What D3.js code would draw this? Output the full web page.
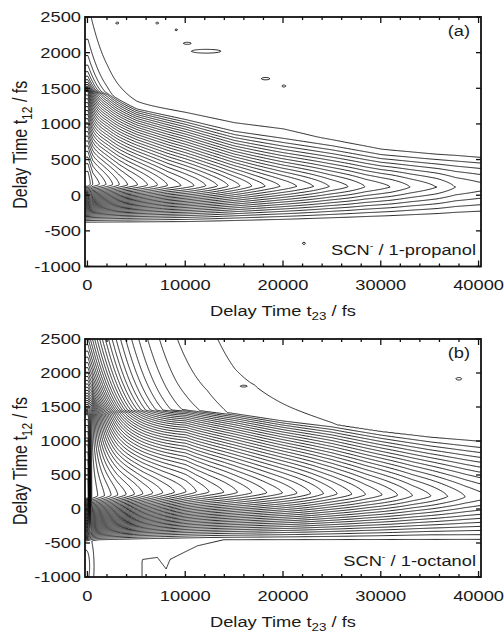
<!DOCTYPE html>
<html>
<head>
<meta charset="utf-8">
<script src="https://cdn.jsdelivr.net/npm/d3@7"></script>
<style>
body { margin: 0; background: #fff; }
svg text { font-family: "Liberation Sans", Arial, Helvetica, sans-serif; font-size: 15px; fill: #1a1a1a; }
</style>
</head>
<body>
<div id="chart"></div>
<script>
// ---- axes ----
var xTicks = [0, 10000, 20000, 30000, 40000];
var xMinorTicks = [2000, 4000, 6000, 8000, 12000, 14000, 16000, 18000, 22000, 24000, 26000, 28000, 32000, 34000, 36000, 38000];
var yTicks = [-1000, -500, 0, 500, 1000, 1500, 2000, 2500];
var contourLevels = d3.range(1, 100);

// ---- panel (a): SCN- / 1-propanol ----
// t23 of the contour tips (rightmost point of each nested loop) and the level reached there
var ampT23A = [0, 500, 1190, 1870, 2550, 3230, 4080, 5100, 6130, 7150, 8170, 9540, 10900, 12100, 13300, 14400, 15600, 16800, 18170, 19700, 21400, 23100, 24700, 26700, 28400, 31000, 33000, 35700, 37600, 40000];
var ampA = [35, 33, 32, 31, 30, 29, 28, 27, 26, 25, 24, 23, 22, 21, 20, 19, 18, 17, 16, 15, 14, 13, 12, 11, 10, 9, 8, 7, 6, 5.4];
var peakT23A = [0, 10000, 40000];
var peakA = [150, 130, 110];
// upper edge of the main lobe (second contour), t12 vs t23
var upperT23A = [0, 2000, 3000, 5000, 10000, 15000, 20000, 25000, 30000, 35000, 40000];
var upperA = [1450, 1400, 1330, 1200, 1050, 880, 775, 680, 560, 500, 446];
var shapeT23A = [0, 1500, 5000, 10000, 20000, 30000, 40000];
var shapeA = [1.1, 1.0, 0.95, 1.1, 1.6, 1.5, 1.2];
// contours sweeping down from the top-left corner: [height, t23 decay, t12 reach, knee]
var sweepA = [15, 1020, 105, 20];
// reach of the outermost contour above the main lobe
var haloT23A = [0, 3000, 5000, 10000, 15000, 20000, 25000, 30000, 40000];
var haloA = [420, 420, 430, 450, 470, 485, 430, 410, 390];
var haloSoftA = 300;
var lowerT23A = [0, 10000, 20000, 30000, 40000];
var lowerA = [-410, -410, -390, -360, -328];
var lowShapeA = 1.5;
var lowFloorT23A = [0, 40000];
var lowFloorA = [-1300, -1300];
// small isolated contours: [t23, t12, half-size t23, half-size t12, height]
var islandsA = [
    [12100, 2015, 1600, 28, 1.6], [10160, 2126, 450, 16, 1.5], [18170, 1630, 450, 16, 1.5],
    [20040, 1527, 200, 14, 1.4], [3000, 2410, 200, 14, 1.4], [7090, 2410, 200, 14, 1.4],
    [9030, 2315, 150, 14, 1.4], [22090, -680, 150, 14, 1.4]
];

// ---- panel (b): SCN- / 1-octanol ----
var ampT23B = [0, 340, 1010, 1700, 2380, 3060, 3920, 4770, 5620, 6640, 7660, 8860, 10050, 11100, 12400, 13900, 15300, 16800, 18300, 19900, 21400, 22800, 24100, 25500, 27000, 28400, 30100, 31700, 33200, 35100, 36800, 38600, 40000];
var ampB = [54, 41, 40, 39, 38, 37, 36, 35, 34, 33, 32, 31, 30, 29, 28, 27, 26, 25, 24, 23, 22, 21, 20, 19, 18, 17, 16, 15, 14, 13, 12, 11, 10.4];
var peakT23B = [0, 10000, 25000, 40000];
var peakB = [180, 250, 220, 170];
var upperT23B = [0, 5000, 10000, 15000, 20000, 25000, 30000, 35000, 40000];
var upperB = [1380, 1420, 1440, 1380, 1280, 1200, 1080, 980, 900];
var shapeT23B = [0, 3000, 10000, 20000, 30000, 40000];
var shapeB = [1.05, 1.0, 0.8, 0.95, 1.1, 1.3];
var sweepB = [42, 3600, 900, 120];
var haloT23B = [0, 9100, 12200, 15000, 17000, 21000, 26000, 33000, 40000];
var haloB = [800, 800, 935, 820, 830, 756, 674, 700, 694];
var haloSoftB = 600;
var lowerT23B = [0, 1200, 5000, 13000, 25000, 35000, 40000];
var lowerB = [-490, -480, -470, -455, -450, -440, -450];
var lowShapeB = 1.3;
// outermost contour below the band
var lowFloorT23B = [0, 5450, 5600, 7100, 8000, 8400, 10200, 11200, 13900, 40000];
var lowFloorB = [-1300, -1300, -760, -730, -900, -760, -630, -560, -470, -465];
var islandsB = [
    [15950, 1802, 500, 18, 1.5], [37930, 1910, 300, 18, 1.5], [-200, -850, 700, 450, 2.0]
];

var panels = [
    {
        letter: '(a)', solvent: '1-propanol', top: 17, bottom: 266.5, titleY: 316,
        amp: [ampT23A, ampA], peak: [peakT23A, peakA], upper: [upperT23A, upperA],
        shape: [shapeT23A, shapeA], sweep: sweepA, halo: [haloT23A, haloA], haloSoft: haloSoftA,
        lower: [lowerT23A, lowerA], lowShape: lowShapeA, lowFloor: [lowFloorT23A, lowFloorA],
        islands: islandsA
    },
    {
        letter: '(b)', solvent: '1-octanol', top: 339, bottom: 577, titleY: 627,
        amp: [ampT23B, ampB], peak: [peakT23B, peakB], upper: [upperT23B, upperB],
        shape: [shapeT23B, shapeB], sweep: sweepB, halo: [haloT23B, haloB], haloSoft: haloSoftB,
        lower: [lowerT23B, lowerB], lowShape: lowShapeB, lowFloor: [lowFloorT23B, lowFloorB],
        islands: islandsB
    }
];

var width = 504, height = 635;
var plotLeft = 85, plotRight = 481;
var stretch = 1.22;
var peakFlat = 1.5, lowFlat = 1.3, haloKnee = 160;

// sampling grid for the contour field
var u0 = -600, du = 100, nu = 413;
var t0 = -1100, dt = 10, nt = 371;

var x = d3.scaleLinear().domain([-250, 40250]).range([plotLeft, plotRight]);

var svg = d3.select('#chart').append('svg')
    .attr('width', width)
    .attr('height', height);

function knots(pair) {
    return d3.scaleLinear().domain(pair[0]).range(pair[1]).clamp(true);
}

function softPlus(v) {
    return (v + Math.sqrt(v * v + haloKnee * haloKnee)) / 2;
}

function buildField(p) {
    var amp = knots(p.amp), peak = knots(p.peak), upper = knots(p.upper),
        shape = knots(p.shape), halo = knots(p.halo), lower = knots(p.lower),
        floor = knots(p.lowFloor);
    var sw = p.sweep, swKnee = Math.sqrt(sw[3] / sw[2]);
    var values = new Float64Array(nu * nt);
    for (var i = 0; i < nu; i++) {
        var uu = u0 + i * du;
        var u = Math.max(0, Math.min(40000, uu));
        var total = amp(u);
        var Bh = halo(u) / p.haloSoft;
        var Bs = sw[0] * Math.exp(-u / sw[1]);
        var A = Math.max(total - Bh - Bs, 0.5);
        var pk = peak(u), mu = shape(u), q = upper(u);
        var Wu = (q - pk) / Math.pow(1 - Math.pow(A, -1 / mu), 1 / peakFlat);
        var Wl = (pk - lower(u)) / Math.pow(1 - Math.pow(total, -1 / p.lowShape), 1 / lowFlat);
        var fl = floor(u);
        for (var j = 0; j < nt; j++) {
            var t = t0 + j * dt, v;
            if (t >= pk) {
                var z = (t - pk) / Wu;
                v = z < 1 ? A * Math.pow(1 - Math.pow(z, peakFlat), mu) : 0;
                v += Bh * p.haloSoft / (softPlus(t - q) + p.haloSoft);
                v += Bs * Math.exp(swKnee - Math.sqrt((Math.max(0, t - q) + sw[3]) / sw[2]));
            } else {
                var zl = (pk - t) / Wl;
                v = zl < 1 ? total * Math.pow(1 - Math.pow(zl, lowFlat), p.lowShape) : 0;
                var shelf = 1.5 * Math.max(0, Math.min(1, (t - fl) / 80 + 0.5));
                v = Math.max(v, shelf);
            }
            p.islands.forEach(function (d) {
                var a = (uu - d[0]) / d[2], b = (t - d[1]) / d[3];
                var e = a * a + b * b;
                if (e < 12) v += d[4] * Math.exp(-e);
            });
            values[j * nu + i] = v;
        }
    }
    return values;
}

function label(g, text, px, py, anchor) {
    return g.append('text')
        .attr('transform', 'translate(' + px + ',' + py + ') scale(' + stretch + ',1)')
        .attr('text-anchor', anchor)
        .text(text);
}

panels.forEach(function (p, n) {
    var y = d3.scaleLinear().domain([-1000, 2500]).range([p.bottom, p.top]);
    var g = svg.append('g');

    var clipId = 'clip' + n;
    svg.append('clipPath').attr('id', clipId)
        .append('rect')
        .attr('x', plotLeft).attr('y', p.top)
        .attr('width', plotRight - plotLeft).attr('height', p.bottom - p.top);

    var values = buildField(p);
    var contours = d3.contours().size([nu, nt]).thresholds(contourLevels)(values);
    var proj = d3.geoTransform({
        point: function (cx, cy) {
            this.stream.point(x(u0 + cx * du), y(t0 + cy * dt));
        }
    });
    var path = d3.geoPath(proj);

    g.append('g')
        .attr('clip-path', 'url(#' + clipId + ')')
        .selectAll('path')
        .data(contours)
        .enter().append('path')
        .attr('d', path)
        .attr('fill', 'none')
        .attr('stroke', '#000')
        .attr('stroke-width', 0.85);

    // frame
    g.append('rect')
        .attr('x', plotLeft).attr('y', p.top)
        .attr('width', plotRight - plotLeft).attr('height', p.bottom - p.top)
        .attr('fill', 'none').attr('stroke', '#111').attr('stroke-width', 1.8);

    var ticks = g.append('g').attr('stroke', '#111').attr('stroke-width', 1.3);
    xTicks.forEach(function (d) {
        ticks.append('line').attr('x1', x(d)).attr('x2', x(d)).attr('y1', p.bottom).attr('y2', p.bottom - 6);
        ticks.append('line').attr('x1', x(d)).attr('x2', x(d)).attr('y1', p.top).attr('y2', p.top + 6);
    });
    xMinorTicks.forEach(function (d) {
        ticks.append('line').attr('x1', x(d)).attr('x2', x(d)).attr('y1', p.bottom).attr('y2', p.bottom - 3);
        ticks.append('line').attr('x1', x(d)).attr('x2', x(d)).attr('y1', p.top).attr('y2', p.top + 3);
    });
    yTicks.forEach(function (d) {
        ticks.append('line').attr('x1', plotLeft).attr('x2', plotLeft + 5).attr('y1', y(d)).attr('y2', y(d));
        ticks.append('line').attr('x1', plotRight).attr('x2', plotRight - 5).attr('y1', y(d)).attr('y2', y(d));
    });

    xTicks.forEach(function (d) {
        label(g, d, x(d), p.bottom + 23.5, 'middle');
    });
    yTicks.forEach(function (d) {
        label(g, d, 81, y(d) + 5.3, 'end');
    });

    // axis titles
    var xt = g.append('text')
        .attr('transform', 'translate(' + x(20000) + ',' + p.titleY + ') scale(' + stretch + ',1)')
        .attr('text-anchor', 'middle');
    xt.append('tspan').text('Delay Time t');
    xt.append('tspan').attr('dy', 4).style('font-size', '11px').text('23');
    xt.append('tspan').attr('dy', -4).text(' / fs');

    var yt = g.append('text')
        .attr('transform', 'translate(27,' + ((p.top + p.bottom) / 2 + 3) + ') scale(' + stretch + ',1) rotate(-90)')
        .attr('text-anchor', 'middle')
        .style('font-size', '16px');
    yt.append('tspan').text('Delay Time t');
    yt.append('tspan').attr('dy', 4).style('font-size', '12px').text('12');
    yt.append('tspan').attr('dy', -4).text(' / fs');

    // panel annotations
    label(g, p.letter, 470, p.top + 19, 'end');
    var sol = g.append('text')
        .attr('transform', 'translate(' + (plotRight - 5) + ',' + (p.bottom - 11.5) + ') scale(' + stretch + ',1)')
        .attr('text-anchor', 'end');
    sol.append('tspan').text('SCN');
    sol.append('tspan').attr('dy', -6).style('font-size', '9px').text('-');
    sol.append('tspan').attr('dy', 6).text(' / ' + p.solvent);
});
</script>
</body>
</html>
